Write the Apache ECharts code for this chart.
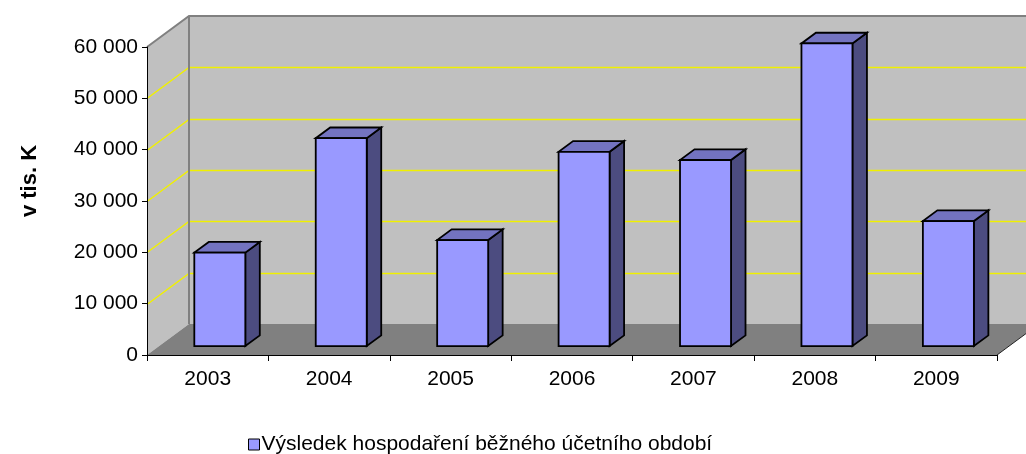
<!DOCTYPE html>
<html>
<head>
<meta charset="utf-8">
<script src="https://cdn.jsdelivr.net/npm/echarts@6/dist/echarts.min.js"></script>
<style>
html,body{margin:0;padding:0;background:#fff;}
#chart{width:1026px;height:454px;}
</style>
</head>
<body>
<div id="chart"></div>
<script>
const categories = ['2003','2004','2005','2006','2007','2008','2009'];
const values = [18200, 40500, 20650, 37850, 36250, 58950, 24350];
const seriesName = 'Výsledek hospodaření běžného účetního období';
const yTicks = [0, 10000, 20000, 30000, 40000, 50000, 60000];
const yTickLabels = ['0', '10 000', '20 000', '30 000', '40 000', '50 000', '60 000'];
const yAxisTitle = 'v tis. K';

const FONT = "'Liberation Sans', Arial, sans-serif";
const DX = 42, DY = 31;         // full depth offset
const F1 = 0.288, F2 = 0.633;   // bar depth range (fractions)
const BAR_W = 0.42;             // bar width as fraction of band

const chart = echarts.init(document.getElementById('chart'), null, {renderer: 'canvas'});

function renderWalls(params, api) {
  const bw = api.size([1, 0])[0];
  const n = categories.length;
  const x0 = api.coord([0, 0])[0] - bw / 2;
  const x1 = api.coord([n - 1, 0])[0] + bw / 2;
  const y0 = api.coord([0, 0])[1];
  const yt = api.coord([0, yTicks[yTicks.length - 1]])[1];
  const children = [];
  children.push({type: 'polygon', shape: {points: [[x0 + DX, yt - DY], [x1 + DX, yt - DY], [x1 + DX, y0 - DY], [x0 + DX, y0 - DY]]}, style: {fill: '#c0c0c0'}});
  children.push({type: 'polygon', shape: {points: [[x0, y0], [x0, yt], [x0 + DX, yt - DY], [x0 + DX, y0 - DY]]}, style: {fill: '#c0c0c0'}});
  children.push({type: 'polygon', shape: {points: [[x0, y0], [x1, y0], [x1 + DX, y0 - DY], [x0 + DX, y0 - DY]]}, style: {fill: '#808080'}});
  for (let i = 1; i < yTicks.length - 1; i++) {
    const y = Math.round(api.coord([0, yTicks[i]])[1]) + 0.5;
    children.push({type: 'polyline', shape: {points: [[x0, y], [x0 + DX, y - DY], [x1 + DX, y - DY]]}, style: {stroke: '#f0f000', lineWidth: 1.5, fill: null}});
  }
  children.push({type: 'polyline', shape: {points: [[x0, yt], [x0 + DX, yt - DY], [x1 + DX, yt - DY]]}, style: {stroke: '#808080', lineWidth: 2, fill: null}});
  children.push({type: 'line', shape: {x1: x0 + DX, y1: yt - DY, x2: x0 + DX, y2: y0 - DY}, style: {stroke: '#808080', lineWidth: 2}});
  children.push({type: 'line', shape: {x1: x1, y1: y0, x2: x1 + DX, y2: y0 - DY}, style: {stroke: '#222', lineWidth: 1}});
  return {type: 'group', children: children};
}

function renderBar(params, api) {
  const idx = api.value(0);
  const v = api.value(1);
  const bw = api.size([1, 0])[0];
  const base = api.coord([idx, 0]);
  const top = api.coord([idx, v]);
  const w = bw * BAR_W;
  const L = base[0] - w / 2 + F1 * DX;
  const R = L + w;
  const B = base[1] - F1 * DY;
  const T = top[1] - F1 * DY;
  const ddx = (F2 - F1) * DX, ddy = (F2 - F1) * DY;
  const st = {stroke: '#000', lineWidth: 1.8, lineJoin: 'miter'};
  return {
    type: 'group',
    children: [
      {type: 'polygon', shape: {points: [[R, T], [R + ddx, T - ddy], [R + ddx, B - ddy], [R, B]]}, style: Object.assign({fill: '#4c4c80'}, st)},
      {type: 'polygon', shape: {points: [[L, T], [R, T], [R + ddx, T - ddy], [L + ddx, T - ddy]]}, style: Object.assign({fill: '#7373c0'}, st)},
      {type: 'rect', shape: {x: L, y: T, width: w, height: B - T}, style: Object.assign({fill: '#9999ff'}, st)}
    ]
  };
}

const option = {
  animation: false,
  backgroundColor: '#ffffff',
  textStyle: {fontFamily: FONT},
  grid: {left: 147, right: 29, top: 47, bottom: 99, containLabel: false},
  xAxis: {
    type: 'category',
    data: categories,
    z: 5,
    axisLine: {lineStyle: {color: '#000', width: 1}},
    axisTick: {show: true, length: 6, lineStyle: {color: '#000'}},
    axisLabel: {color: '#000', fontSize: 21, fontFamily: FONT, margin: 14},
    splitLine: {show: false}
  },
  yAxis: {
    type: 'value',
    min: 0, max: 60000, interval: 10000,
    z: 5,
    axisLine: {show: true, lineStyle: {color: '#000', width: 1}},
    axisTick: {show: true, length: 5, lineStyle: {color: '#000'}},
    axisLabel: {color: '#000', fontSize: 21, fontFamily: FONT, margin: 9,
      formatter: function (val) { const i = yTicks.indexOf(val); return i >= 0 ? yTickLabels[i] : ''; }},
    splitLine: {show: false}
  },
  legend: {
    data: [seriesName],
    left: 243, top: 429,
    icon: 'rect',
    itemWidth: 11, itemHeight: 11,
    itemGap: 4,
    itemStyle: {color: '#9999ff', borderColor: '#000', borderWidth: 1},
    textStyle: {color: '#000', fontSize: 21, fontFamily: FONT, padding: [0, 0, 0, -3]}
  },
  graphic: [{
    type: 'text',
    x: 30, y: 181,
    rotation: Math.PI / 2,
    style: {text: yAxisTitle, font: 'bold 22px ' + FONT, fill: '#000', align: 'center', verticalAlign: 'middle', textAlign: 'center', textVerticalAlign: 'middle'}
  }],
  series: [
    {type: 'custom', name: 'walls', silent: true, z: 1, renderItem: renderWalls, data: [[0, 0]]},
    {type: 'custom', name: seriesName, z: 2, renderItem: renderBar,
      itemStyle: {color: '#9999ff', borderColor: '#000', borderWidth: 1},
      data: categories.map((c, i) => [i, values[i]])}
  ]
};
chart.setOption(option);
</script>
</body>
</html>
